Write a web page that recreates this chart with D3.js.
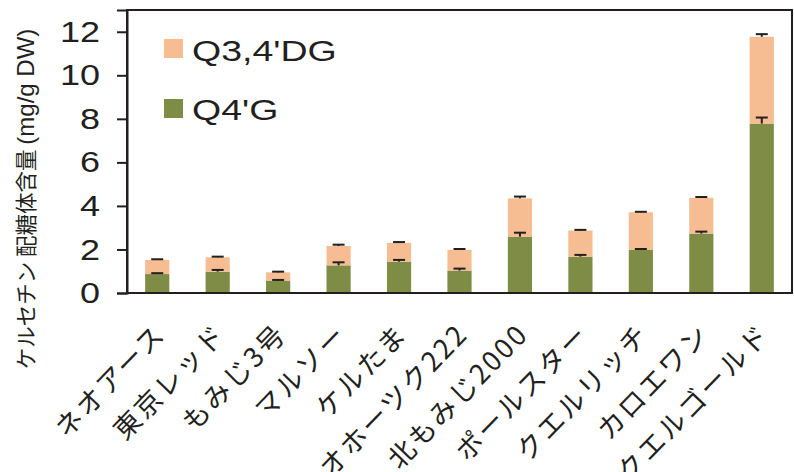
<!DOCTYPE html>
<html><head><meta charset="utf-8">
<script src="https://cdn.jsdelivr.net/npm/d3@7"></script>
<style>body{margin:0;background:#fff}</style>
</head><body>
<svg id="c" width="794" height="472"></svg>
<script>
const categories = ["ネオアース","東京レッド","もみじ3号","マルソー","ケルたま","オホーツク222","北もみじ2000","ポールスター","クエルリッチ","カロエワン","クエルゴールド"];
const q4g     = [0.87,0.98,0.57,1.27,1.44,1.03,2.59,1.67,1.98,2.73,7.78];
const q4gErr  = [0.04,0.08,0.03,0.14,0.08,0.09,0.18,0.08,0.04,0.09,0.28];
const q34dg    = [0.65,0.66,0.38,0.89,0.86,0.95,1.76,1.20,1.73,1.64,3.99];
const q34dgErr = [0.03,0.03,0.03,0.06,0.04,0.04,0.08,0.03,0.02,0.04,0.12];
const yTicks = [0,2,4,6,8,10,12];
const seriesNames = ["Q3,4'DG","Q4'G"];
const colors = {"Q3,4'DG":"#F5BD91","Q4'G":"#7F8C46"};

const svg = d3.select("#c");
const L=127,R=792,T=10,B=293;
const x = d3.scaleBand().domain(categories).range([L,R]).paddingInner(0.6).paddingOuter(0.3);
const y = d3.scaleLinear().domain([0,13]).range([B,T]);
const ink="#231F20";

const data = categories.map((c,i)=>({c, g:q4g[i], ge:q4gErr[i], d:q34dg[i], de:q34dgErr[i]}));

// bars
svg.append("g").selectAll("rect.g").data(data).join("rect")
  .attr("x",d=>x(d.c)).attr("width",x.bandwidth())
  .attr("y",d=>y(d.g)).attr("height",d=>y(0)-y(d.g)).attr("fill",colors["Q4'G"]);
svg.append("g").selectAll("rect.d").data(data).join("rect")
  .attr("x",d=>x(d.c)).attr("width",x.bandwidth())
  .attr("y",d=>y(d.g+d.d)).attr("height",d=>y(d.g)-y(d.g+d.d)).attr("fill",colors["Q3,4'DG"]);

// error bars
const eb = svg.append("g").attr("stroke",ink).attr("stroke-width",2);
data.forEach(d=>{
  const cx = x(d.c)+x.bandwidth()/2;
  [[d.g,d.ge],[d.g+d.d,d.de]].forEach(([v,e])=>{
    eb.append("line").attr("x1",cx).attr("x2",cx).attr("y1",y(v)).attr("y2",y(v+e));
    eb.append("line").attr("x1",cx-6).attr("x2",cx+6).attr("y1",y(v+e)).attr("y2",y(v+e));
  });
});

// frame
svg.append("rect").attr("x",L).attr("y",T).attr("width",R-L).attr("height",B-T)
  .attr("fill","none").attr("stroke",ink).attr("stroke-width",2);

// y axis
const ya = svg.append("g").attr("transform",`translate(${L},0)`)
  .call(d3.axisLeft(y).tickValues(yTicks).tickSize(10).tickPadding(17).tickFormat(d3.format("d")));
ya.select(".domain").attr("stroke",ink).attr("stroke-width",2);
ya.selectAll(".tick line").attr("stroke",ink).attr("stroke-width",2);
ya.selectAll(".tick text").attr("font-family","'Liberation Sans',Arial,sans-serif").attr("font-size",30).attr("fill",ink)
  .attr("x",-27/1.2).attr("transform","scale(1.2,1)");

// x labels
svg.append("g").selectAll("text").data(categories).join("text")
  .attr("transform",d=>`translate(${x(d)+x.bandwidth()/2-7},${B+26}) rotate(-46)`)
  .attr("text-anchor","end").attr("dy","0.88em")
  .attr("font-family","'Noto Sans CJK JP',sans-serif").attr("font-size",27).attr("letter-spacing",2.5).attr("fill",ink)
  .text(d=>d);

// y title
const yt = svg.append("text").attr("transform",`translate(34,199) rotate(-90)`)
  .attr("text-anchor","middle").attr("fill",ink);
yt.append("tspan").attr("font-family","'Noto Sans CJK JP',sans-serif").attr("font-size",21.5).text("ケルセチン 配糖体含量 ");
yt.append("tspan").attr("font-family","'Liberation Sans',Arial,sans-serif").attr("font-size",24).text("(mg/g DW)");

// legend
const lg = svg.append("g");
seriesNames.forEach((s,i)=>{
  lg.append("rect").attr("x",164).attr("y",39+i*60).attr("width",19).attr("height",19).attr("fill",colors[s]);
  lg.append("text").attr("transform",`translate(192,${61+i*58.5}) scale(1.25,1)`).attr("font-family","'Liberation Sans',Arial,sans-serif")
    .attr("font-size",30).attr("fill",ink).text(s);
});
</script>
</body></html>
